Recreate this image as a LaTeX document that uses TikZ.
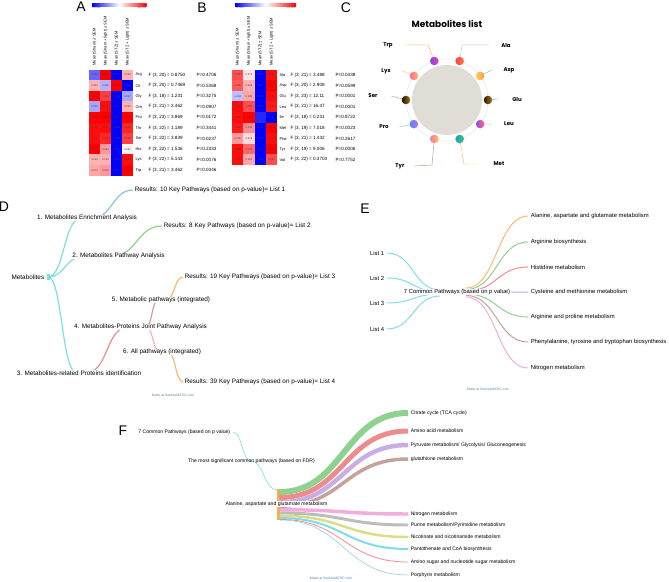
\documentclass[tikz,border=0pt]{standalone}
\usepackage{fontspec}
\setmainfont{Liberation Sans}
\newfontfamily\popfont{Poppins}
\usetikzlibrary{calc}

\definecolor{skyc}{HTML}{7FDDE6}
\definecolor{blueL}{HTML}{8EC0E4}
\definecolor{greenL}{HTML}{8FD18F}
\definecolor{orangeL}{HTML}{FDB870}
\definecolor{redL}{HTML}{EE8C8C}
\definecolor{brownL}{HTML}{C4A39B}
\definecolor{pinkL}{HTML}{F2ACDD}
\definecolor{purpleL}{HTML}{C9AEE3}
\definecolor{grayL}{HTML}{BDBDBD}
\definecolor{oliveL}{HTML}{DCDC84}
\definecolor{orangeN}{HTML}{F6B045}
\definecolor{discC}{HTML}{E0DDD7}
\definecolor{madeC}{HTML}{5A7FA8}
\definecolor{gluA}{HTML}{2B1B05}\definecolor{gluB}{HTML}{B07A22}
\definecolor{aspA}{HTML}{FFCE5A}\definecolor{aspB}{HTML}{FF9A3C}
\definecolor{alaA}{HTML}{FF3F3F}\definecolor{alaB}{HTML}{FF7A4A}
\definecolor{trpA}{HTML}{7E45E0}\definecolor{trpB}{HTML}{E24AA8}
\definecolor{lysA}{HTML}{FF6BB0}\definecolor{lysB}{HTML}{FFB34D}
\definecolor{serA}{HTML}{1C1205}\definecolor{serB}{HTML}{A6741E}
\definecolor{proA}{HTML}{4A8CFF}\definecolor{proB}{HTML}{D068E0}
\definecolor{tyrA}{HTML}{FF6FB5}\definecolor{tyrB}{HTML}{FFC24A}
\definecolor{metA}{HTML}{1E9FD0}\definecolor{metB}{HTML}{3CC46A}
\definecolor{leuA}{HTML}{8A4FE8}\definecolor{leuB}{HTML}{FF6A7A}

\tikzset{
  panel/.style={font=\fontsize{14}{14}\selectfont},
  micro/.style={font=\fontsize{1.8}{2}\selectfont, inner sep=0.2pt, text=black!70},
  hdr/.style={font=\fontsize{4}{4}\selectfont, rotate=90, anchor=west, inner sep=0.3pt},
  cellno/.style={font=\fontsize{2.6}{3}\selectfont, inner sep=0pt, text=black!75},
  rowlab/.style={font=\fontsize{4}{5}\selectfont, anchor=west, inner sep=0.3pt},
  stat/.style={font=\fontsize{4.6}{5}\selectfont, anchor=west, inner sep=0.3pt},
  ttl/.style={font=\popfont\bfseries\fontsize{9}{10}\selectfont},
  aa/.style={font=\popfont\bfseries\fontsize{5.5}{6}\selectfont, inner sep=0.5pt},
  lead/.style={line width=0.5pt},
  lbl/.style={font=\fontsize{6.4}{7}\selectfont, inner sep=0.5pt, fill=white},
  lblE/.style={font=\fontsize{5.9}{7}\selectfont, inner sep=0.5pt},
  lblF/.style={font=\fontsize{5.1}{6}\selectfont, inner sep=0.5pt},
  made/.style={font=\fontsize{3.4}{4}\selectfont, text=madeC},
  lnk/.style={line width=1.2pt},
  flow/.style={to path={let \p1=(\tikztostart), \p2=(\tikztotarget),
    \n1={0.5*\x1+0.5*\x2} in .. controls (\n1,\y1) and (\n1,\y2) .. (\tikztotarget) \tikztonodes}},
}

\begin{document}
\begin{tikzpicture}[x=1bp,y=-1bp,semithick]
\useasboundingbox (0,0) rectangle (669,582);
\node[panel] (pA) at (81,7) {A};
\node[panel] (pB) at (202,8) {B};
\node[panel] (pC) at (346,8) {C};
\node[panel] (pD) at (4,207) {D};
\node[panel] (pE) at (365,209) {E};
\node[panel] (pF) at (123,431) {F};

% heat map A
\shade[left color=blue,right color=red,middle color=white] (92,3.3) rectangle (146.5,6.7);
\node[micro,anchor=north west] (loA) at (92,7) {Low Value};
\node[micro,anchor=north east] (hiA) at (146.5,7) {High Value};
\foreach \h [count=\ci] in {Mean (Sham) ± SEM,Mean (Sham + light) ± SEM,Mean (STZ) ± SEM,Mean (STZ + Light) ± SEM}
  \node[hdr] (hA\ci) at ({83.5+11*\ci},66) {\h};
\foreach \lab/\df/\fv/\pv/\cells [count=\ri] in {
  Arg/20/0.8750/0.4706/{-60/0.061,100/0.087,-100/0.061,30/0.084},
  Cit/20/0.7469/0.5368/{30/0.030,-30/0.025,100/0.031,-100/0.011},
  Gly/18/1.231/0.3275/{100/0.481,75/0.434,-100/0.140,-35/0.267},
  Orn/21/2.462/0.0907/{-35/0.050,95/0.066,-100/0.041,30/0.050},
  Pro/23/3.869/0.0172/{100/0.030,100/0.031,-100/0.011,100/0.030},
  Thr/22/1.189/0.3441/{95/0.085,95/0.081,-100/0.078,85/0.085},
  Ser/22/3.839/0.0237/{95/0.130,85/0.152,-100/0.080,75/0.175},
  His/22/1.536/0.2333/{100/0.078,40/0.064,-100/0.061,5/0.061},
  Lys/22/5.143/0.0076/{30/0.009,30/0.009,-100/0.003,95/0.012},
  Trp/21/3.462/0.0346/{35/0.013,40/0.005,-100/0.001,100/0.009}}{
  \foreach \v/\n [count=\ci] in \cells {
    \ifnum\v<0 \edef\hc{blue!\the\numexpr0-(\v)\relax}\else\edef\hc{red!\v}\fi
    \fill[fill=\hc] ({78+11*\ci},{59.1+10.6*\ri}) rectangle ++(11,10.6);
    \node[cellno] at ({83.5+11*\ci},{64.4+10.6*\ri}) {\n};
  }
  \node[rowlab] (a\lab) at (135,{64.4+10.6*\ri}) {\lab};
  \node[stat] (fa\lab) at (148,{64.4+10.6*\ri}) {F (3, \df) = \fv};
  \node[stat] (pa\lab) at (196,{64.4+10.6*\ri}) {P=\pv};
}

% heat map B
\shade[left color=blue,right color=red,middle color=white] (235,3.3) rectangle (296,6.7);
\node[micro,anchor=north west] (loB) at (235,7) {Low Value};
\node[micro,anchor=north east] (hiB) at (296,7) {High Value};
\foreach \h [count=\ci] in {Mean (Sham) ± SEM,Mean (Sham + light) ± SEM,Mean (STZ) ± SEM,Mean (STZ + Light) ± SEM}
  \node[hdr] (hB\ci) at ({226.35+11.3*\ci},66) {\h};
\foreach \lab/\df/\fv/\pv/\cells [count=\ri] in {
  Ala/21/3.488/0.0338/{70/0.087,10/0.076,-100/0.051,95/0.087},
  Asp/20/2.908/0.0599/{65/0.480,30/0.488,-100/0.181,100/0.971},
  Glu/23/12.11/0.0001/{-25/0.404,35/0.588,-100/0.229,95/0.721},
  Leu/21/16.47/0.0001/{95/0.051,70/0.050,-100/0.031,90/0.080},
  Ile/18/0.231/0.8722/{95/0.001,100/0.001,-85/0.001,-100/0.001},
  Met/19/7.018/0.0023/{90/0.033,45/0.033,-100/0.031,100/0.038},
  Phe/21/1.432/0.2617/{40/0.026,15/0.026,-100/0.024,95/0.034},
  Tyr/19/9.006/0.0006/{95/0.031,60/0.032,-100/0.021,100/0.030},
  Val/22/0.3703/0.7752/{95/0.281,35/0.281,-100/0.184,70/0.283}}{
  \foreach \v/\n [count=\ci] in \cells {
    \ifnum\v<0 \edef\hc{blue!\the\numexpr0-(\v)\relax}\else\edef\hc{red!\v}\fi
    \fill[fill=\hc] ({220.7+11.3*\ci},{59.1+10.6*\ri}) rectangle ++(11.3,10.6);
    \node[cellno] at ({226.35+11.3*\ci},{64.4+10.6*\ri}) {\n};
  }
  \node[rowlab] (b\lab) at (279,{64.4+10.6*\ri}) {\lab};
  \node[stat] (fb\lab) at (290,{64.4+10.6*\ri}) {F (3, \df) = \fv};
  \node[stat] (pb\lab) at (335,{64.4+10.6*\ri}) {P=\pv};
}

% metabolites list
\node[ttl] (ttlC) at (447,24) {Metabolites list};
\coordinate (cc) at (447,100);
\fill[discC] (cc) circle (35);
\draw[black!8,line width=0.7pt] (cc) circle (41);
\foreach \a/\lab in {0/Glu,36/Asp,72/Ala,108/Trp,144/Lys,180/Ser,216/Pro,252/Tyr,288/Met,324/Leu}
  \coordinate (d\lab) at ({447+41*cos(\a)},{100-41*sin(\a)});
\node[aa] (tTrp) at (388,45) {Trp};
\node[aa] (tLys) at (386,71) {Lys};
\node[aa] (tSer) at (373,96) {Ser};
\node[aa] (tPro) at (384,127) {Pro};
\node[aa] (tTyr) at (400,166) {Tyr};
\node[aa] (tAla) at (506,45) {Ala};
\node[aa] (tAsp) at (509,70) {Asp};
\node[aa] (tGlu) at (517,99) {Glu};
\node[aa] (tLeu) at (509,124) {Leu};
\node[aa] (tMet) at (499,164) {Met};
\draw[lead,draw=orangeL] (dTrp) -- (428,45) -- ([xshift=13pt]tTrp.east);
\draw[lead,draw=orangeL!80] (dLys) -- ([xshift=11pt]tLys.east);
\draw[lead,draw=brownL] (dSer) -- ([xshift=13pt]tSer.east);
\draw[lead,draw=blueL] (dPro) -- ([xshift=10pt]tPro.east);
\draw[lead,draw=greenL!70!gray] (dTyr) -- (432,165) -- ([xshift=9pt]tTyr.east);
\draw[lead,draw=greenL!60!gray!60] (dAla) -- (462,45) -- ([xshift=-12pt]tAla.west);
\draw[lead,draw=skyc!70!gray] (dAsp) -- ([xshift=-11pt]tAsp.west);
\draw[lead,draw=skyc!70!gray] (dGlu) -- ([xshift=-14pt]tGlu.west);
\draw[lead,draw=orangeL] (dLeu) -- ([xshift=-11pt]tLeu.west);
\draw[lead,draw=orangeL] (dMet) -- (464,164) -- ([xshift=-15pt]tMet.west);
\foreach \lab/\ca/\cb in {Glu/gluA/gluB,Asp/aspA/aspB,Ala/alaA/alaB,Trp/trpA/trpB,Lys/lysA/lysB,
  Ser/serA/serB,Pro/proA/proB,Tyr/tyrA/tyrB,Met/metA/metB,Leu/leuA/leuB}
  \shade[left color=\ca,right color=\cb] (d\lab) circle (4.3);

% D
\coordinate (met) at (48,277);
\coordinate (n1i) at (80,219);
\coordinate (n1o) at (92,218);
\coordinate (r1) at (133,190);
\coordinate (n2i) at (82,257);
\coordinate (n2o) at (112,256);
\coordinate (r2) at (162,226);
\coordinate (n3i) at (76,372);
\coordinate (n3o) at (88,372);
\coordinate (n4i) at (126,328);
\coordinate (n4o) at (146,327);
\coordinate (n5i) at (158,300);
\coordinate (n5o) at (166,300);
\coordinate (n6i) at (160,352);
\coordinate (n6o) at (168,352);
\coordinate (r3) at (183,277);
\coordinate (r4) at (183,382);
\draw[lnk,skyc] (met) to[flow] (n1i) (met) to[flow] (n2i) (met) to[flow] (n3i);
\draw[lnk,blueL] (n1o) to[flow] (r1);
\draw[lnk,greenL] (n2o) to[flow] (r2);
\draw[lnk,redL] (n3o) to[flow] (n4i);
\draw[lnk,brownL] (n4o) to[flow] (n5i);
\draw[lnk,pinkL] (n4o) to[flow] (n6i);
\draw[lnk,orangeL] (n5o) to[flow] (r3);
\draw[lnk,orangeL] (n6o) to[flow] (r4);
\fill[skyc] (47,274) rectangle (49.5,280);
\node[lbl,anchor=east] (tmet) at (45,277) {Metabolites};
\node[lbl] (t1) at (87,218) {1. Metabolites Enrichment Analysis};
\node[lbl,anchor=west] (tr1) at (134,190) {Results: 10 Key Pathways (based on p-value)= List 1};
\node[lbl] (t2) at (118.5,256) {2. Metabolites Pathway Analysis};
\node[lbl,anchor=west] (tr2) at (163,226) {Results: 8 Key Pathways (based on p-value)= List 2};
\node[lbl] (t3) at (79,373) {3. Metabolites-related Proteins identification};
\node[lbl] (t4) at (140.5,327) {4. Metabolites-Proteins Joint Pathway Analysis};
\node[lbl] (t5) at (161,300) {5. Metabolic pathways (integrated)};
\node[lbl] (t6) at (162,352) {6. All pathways (integrated)};
\node[lbl,anchor=west] (tr3) at (184,277) {Results: 19 Key Pathways (based on p-value)= List 3};
\node[lbl,anchor=west] (tr4) at (184,382) {Results: 39 Key Pathways (based on p-value)= List 4};
\node[made] (mkD) at (173,396) {Made at SankeyMATIC.com};

% E
\foreach \k/\y in {1/253,2/278,3/303,4/329}{
  \node[lblE,anchor=east] (l\k) at (385,\y) {List \k};
  \coordinate (lo\k) at (387,\y);
  \coordinate (ci\k) at (440,{288+2*\k});
  \draw[lnk,line width=1pt,skyc] (lo\k) to[flow] (ci\k);
}
\foreach \k/\y/\cl/\txt in {1/216/orangeL/{Alanine, aspartate and glutamate metabolism},
  2/242/greenL/Arginine biosynthesis,3/267/redL/Histidine metabolism,
  4/292/purpleL/Cysteine and methionine metabolism,5/317/greenL/Arginine and proline metabolism,
  6/342/brownL/{Phenylalanine, tyrosine and tryptophan biosynthesis},7/368/pinkL/Nitrogen metabolism}{
  \coordinate (co\k) at (466,{286.5+1.5*\k});
  \coordinate (et\k) at (528,\y);
  \draw[lnk,line width=1pt,draw=\cl] (co\k) to[flow] (et\k);
  \node[lblE,anchor=west] (e\k) at (530,\y) {\txt};
}
\node[lblE,fill=white] (ec) at (457,292) {7 Common Pathways (based on p value)};
\node[made] (mkE) at (488,390) {Made at SankeyMATIC.com};

% F
\coordinate (f7) at (233,432);
\coordinate (ffdr) at (251,461);
\coordinate (fala) at (277,490);
\draw[line width=0.6pt,skyc] (f7) to[flow] (ffdr) to[flow] (fala);
\node[lblF,anchor=east] (t7) at (231,432) {7 Common Pathways (based on p value)};
\node[lblF] (tfdr) at (251.5,461) {The most significant common pathways (based on FDR)};
\fill[orangeN] (277,489) rectangle (279.5,520.3);
\foreach \k/\sy/\ty/\w/\cl/\txt in {1/492/413/6/greenL/Citrate cycle (TCA cycle),
  2/497.5/431/5/redL/Amino acid metabolism,
  3/502.25/445/4.5/purpleL/{Pyruvate metabolism/ Glycolysis/ Gluconeogenesis},
  4/506.25/459/3.5/brownL/glutathione metabolism,
  5/509.75/514/3.5/pinkL/Nitrogen metabolism,
  6/513/525/3/grayL/{Purine metabolism/Pyrimidine metabolism},
  7/515.75/537/2.5/oliveL/Nicotinate and nicotinamide metabolism,
  8/518/549/2/skyc/Pantothenate and CoA biosynthesis,
  9/519.4/562/0.8/redL/Amino sugar and nucleotide sugar metabolism,
  10/520/575/0.5/blueL/Porphyrin metabolism}{
  \coordinate (s\k) at (279.5,\sy);
  \coordinate (g\k) at (408,\ty);
  \draw[line width=\w pt,draw=\cl] (s\k) to[flow] (g\k);
  \node[lblF,anchor=west] (fl\k) at (410,\ty) {\txt};
}
\node[lblF,fill=white] (tala) at (276.5,504) {Alanine, aspartate and glutamate metabolism};
\node[made] (mkF) at (331,579) {Made at SankeyMATIC.com};
\end{tikzpicture}
\end{document}
